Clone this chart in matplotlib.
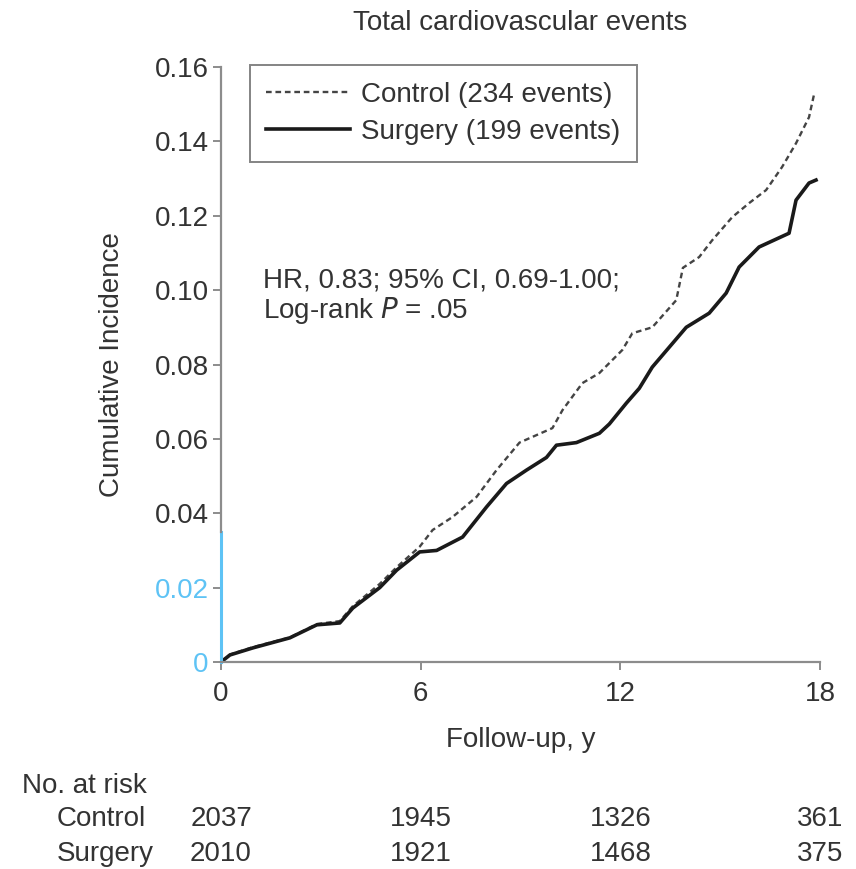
import matplotlib
matplotlib.use("Agg")
import matplotlib.pyplot as plt

plt.rcParams['font.family'] = ['Liberation Sans', 'DejaVu Sans']

# Data
surgery_t = [0, 0.27, 0.96, 2.07, 2.88, 3.57, 3.96, 4.77, 5.28, 5.97, 6.48, 7.26, 7.98,
             8.58, 9.18, 9.78, 10.08, 10.68, 11.37, 11.67, 12.18, 12.57, 12.96, 13.98,
             14.67, 15.18, 15.57, 16.17, 17.07, 17.28, 17.67, 17.88]
surgery_y = [0, 0.0019, 0.0038, 0.0065, 0.010, 0.0105, 0.0145, 0.020, 0.0247, 0.0296,
             0.030, 0.0336, 0.0417, 0.048, 0.0516, 0.055, 0.0583, 0.059, 0.0615, 0.064,
             0.0696, 0.0736, 0.0793, 0.090, 0.0938, 0.0992, 0.1062, 0.1116, 0.1153,
             0.1242, 0.1288, 0.1296]
control_t = [0, 0.27, 0.96, 2.07, 2.88, 3.57, 3.96, 4.77, 5.28, 5.97, 6.36, 6.96, 7.68,
             8.28, 8.97, 9.96, 10.26, 10.86, 11.37, 12.06, 12.36, 12.96, 13.68, 13.88,
             14.37, 14.76, 15.36, 15.87, 16.38, 16.86, 17.28, 17.67, 17.83]
control_y = [0, 0.002, 0.004, 0.0066, 0.0102, 0.011, 0.015, 0.021, 0.0255, 0.031, 0.0355,
             0.039, 0.0444, 0.0516, 0.059, 0.0629, 0.0677, 0.075, 0.0777, 0.0839, 0.0884,
             0.090, 0.0973, 0.106, 0.1089, 0.1134, 0.1196, 0.1234, 0.1269, 0.1331,
             0.1395, 0.1465, 0.153]

x_ticks = [0, 6, 12, 18]
y_ticks = [0, 0.02, 0.04, 0.06, 0.08, 0.10, 0.12, 0.14, 0.16]
y_tick_labels = ['0', '0.02', '0.04', '0.06', '0.08', '0.10', '0.12', '0.14', '0.16']
risk_groups = ['Control', 'Surgery']
risk_control = ['2037', '1945', '1326', '361']
risk_surgery = ['2010', '1921', '1468', '375']
blue_segment_top = 0.035

TXT = '#333333'
GRAY = '#8c8c8c'
BLUE = '#5ec3f5'
FS = 20

fig = plt.figure(figsize=(8.56, 8.69), dpi=100)
ax = fig.add_axes([221/856, 1 - 662/869, (820 - 221)/856, (662 - 67)/869])

ax.plot(control_t, control_y, color='#444444', lw=1.7, ls=(0, (2.4, 1.6)),
        label='Control (234 events)')
ax.plot(surgery_t, surgery_y, color='#1a1a1a', lw=2.6,
        label='Surgery (199 events)')

ax.set_xlim(0, 18)
ax.set_ylim(0, 0.16)
ax.set_xticks(x_ticks)
ax.set_xticklabels([str(v) for v in x_ticks])
ax.set_yticks(y_ticks)
ax.set_yticklabels(y_tick_labels)
ax.tick_params(axis='both', labelsize=FS, colors=GRAY, labelcolor=TXT,
               length=6, width=1.4, direction='out')
ax.tick_params(axis='y', pad=3)
ax.tick_params(axis='x', pad=8)
for lab in ax.get_yticklabels()[:2]:
    lab.set_color(BLUE)
for s in ['top', 'right']:
    ax.spines[s].set_visible(False)
for s in ['left', 'bottom']:
    ax.spines[s].set_color(GRAY)
    ax.spines[s].set_linewidth(1.6)
ax.spines['left'].set_bounds(blue_segment_top, 0.16)
ax.axvline(0, ymin=0, ymax=blue_segment_top / 0.16, color=BLUE, lw=2.2, clip_on=False)
ytl = ax.yaxis.get_major_ticks()
for t in ytl[:2]:
    t.tick1line.set_color(BLUE)

ax.set_title('Total cardiovascular events', fontsize=FS, color=TXT, pad=27)
ax.set_xlabel('Follow-up, y', fontsize=FS, color=TXT, labelpad=14)
ax.set_ylabel('Cumulative Incidence', fontsize=FS, color=TXT, labelpad=21)

ax.text(1.25, 0.1027, 'HR, 0.83; 95% CI, 0.69-1.00;', fontsize=FS, color=TXT, va='center')
ax.text(1.25, 0.0946, 'Log-rank $\\it{P}$ = .05', fontsize=FS, color=TXT, va='center')

leg = ax.legend(loc='upper left', bbox_to_anchor=(0.048, 1.003), fontsize=FS,
                frameon=True, fancybox=False, handlelength=3.0, handletextpad=0.4,
                borderpad=0.6, labelspacing=0.4, borderaxespad=0, labelcolor=TXT)
leg.get_frame().set_edgecolor('#666666')
leg.get_frame().set_linewidth(1.4)

# Number at risk table
fig.text(22/856, 1 - 786/869, 'No. at risk', fontsize=FS, color=TXT, va='center')
rows = [risk_control, risk_surgery]
row_y = [819, 854]
for name, vals, py in zip(risk_groups, rows, row_y):
    fig.text(57/856, 1 - py/869, name, fontsize=FS, color=TXT, va='center')
    for xv, v in zip(x_ticks, vals):
        xf = ax.transData.transform((xv, 0))[0] / fig.bbox.width
        fig.text(xf, 1 - py/869, v, fontsize=FS, color=TXT, va='center', ha='center')

fig.savefig('out.png', dpi=100)
